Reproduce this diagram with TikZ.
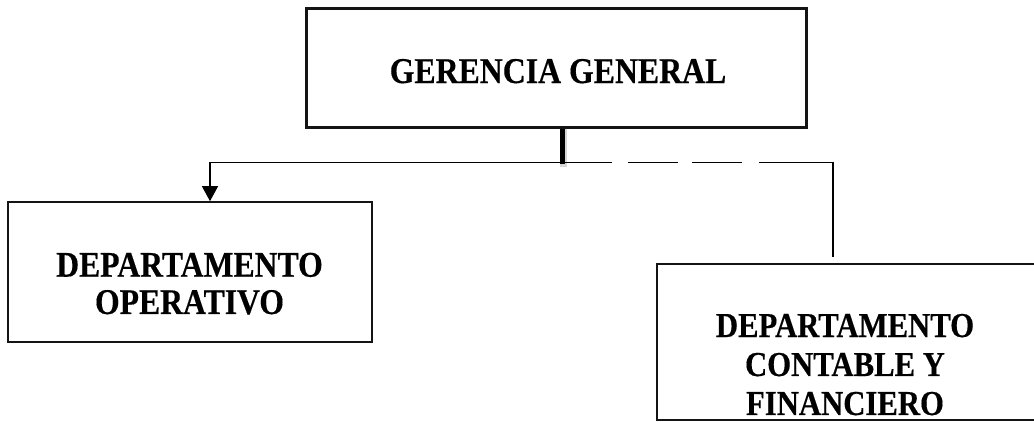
\documentclass[tikz,border=0pt]{standalone}
\usepackage{xcolor}
\usepackage{graphicx}
\usepackage{fontspec}
\usepackage{tikz}
\usetikzlibrary{arrows.meta, positioning, calc}
\setmainfont{Liberation Serif}[BoldFont={Liberation Serif Bold}, BoldFeatures={FakeBold=0.4}]
\definecolor{boxline}{RGB}{20, 20, 20}
\definecolor{shadowgray}{RGB}{215, 215, 215}

\tikzset{
    deptbox/.style={draw=boxline, line width=1.6pt, inner sep=0pt},
    depttext/.style={inner sep=0pt, anchor=base, font=\bfseries},
    orgline/.style={draw=black, line width=1.3pt}
}

\begin{document}
\begin{tikzpicture}[x=1pt, y=-1pt]
            \useasboundingbox (0,0) rectangle (1034,421);
            \clip (0,0) rectangle (1034,421);

            % cajas
            \node[deptbox, line width=3pt, minimum width=500pt, minimum height=119pt] (gerencia) at (556,67.5) {};
            \node[deptbox, minimum width=364pt, minimum height=140pt] (operativo) at (190,272) {};
            \node[deptbox, minimum width=430pt, minimum height=156pt] (contable) at (872,342) {};

            % textos
            \node[depttext] (gerenciatxt) at (558,83) {%
                \scalebox{1}[1.14]{\fontsize{31.8}{33}\selectfont\bfseries GERENCIA GENERAL}};
            \node[depttext] (operativotxt) at (189.5,276.7) {%
                \scalebox{1}[1.14]{\fontsize{31.7}{32.7}\selectfont\bfseries
                \begin{tabular}[t]{@{}c@{}}
                    DEPARTAMENTO\\
                    OPERATIVO
                \end{tabular}}};
            \node[depttext] (contabletxt) at (845,337) {%
                \scalebox{1}[1.14]{\fontsize{30.7}{34.2}\selectfont\bfseries
                \begin{tabular}[t]{@{}c@{}}
                    DEPARTAMENTO\\
                    CONTABLE Y\\
                    FINANCIERO
                \end{tabular}}};

            % conectores
            \coordinate (hub) at (562,162.5);
            \coordinate (ctop) at (833,257);
            \draw[shadowgray, line width=7pt] ([xshift=1pt]gerencia.south -| hub) -- ([xshift=1pt,yshift=-4pt]hub);
            \draw[black, line width=5pt] (gerencia.south -| hub) -- ([yshift=-1pt]hub);
            \draw[orgline, -{Triangle[width=16pt, length=15pt]}] (hub) -| ([xshift=20pt]operativo.north);
            \draw[orgline, dash pattern=on 50pt off 16pt on 50pt off 14pt on 50pt off 17pt on 500pt off 1pt] (hub) -| (ctop);
        \end{tikzpicture}
\end{document}
